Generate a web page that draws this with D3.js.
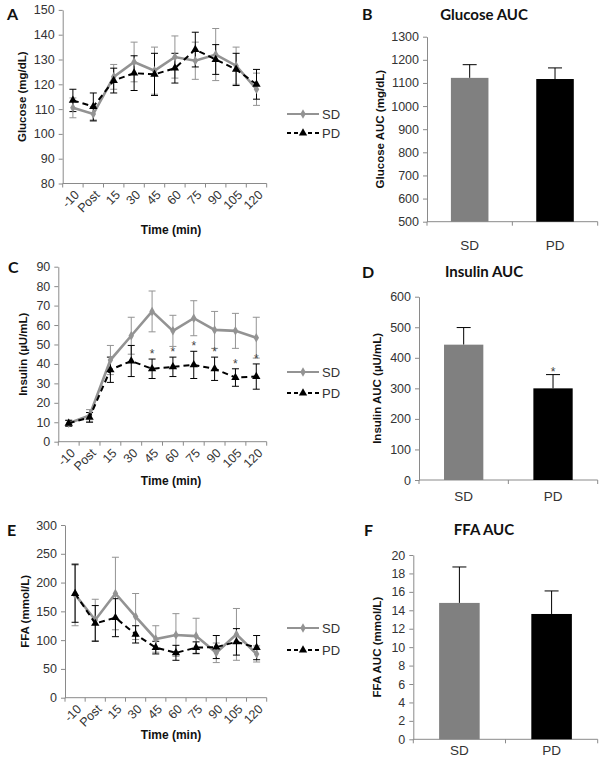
<!DOCTYPE html>
<html>
<head>
<meta charset="utf-8">
<script src="https://cdn.jsdelivr.net/npm/d3@7"></script>
<style>
  body { margin: 0; background: #fff; }
  text { font-family: "Liberation Sans", Arial, sans-serif; }
</style>
</head>
<body>
<script>
// time points
const times = ["-10", "Post", "15", "30", "45", "60", "75", "90", "105", "120"];
const groups = ["SD", "PD"];

// glucose (mg/dL)
const glucoseSD = [110.5, 108, 123, 129, 125.5, 131, 129.5, 132, 127.5, 118];
const glucoseSDErr = [4, 3, 5, 8, 9.5, 8.5, 7.5, 10.5, 7.5, 6.5];
const glucosePD = [113.5, 111, 121.5, 124.5, 124, 126.5, 134, 130, 126, 120];
const glucosePDErr = [4.5, 5.5, 5, 7, 8.5, 6, 7, 6, 6.5, 6];

// insulin (uU/mL)
const insulinSD = [9.5, 13.5, 42, 54.5, 67, 57, 63.5, 57.5, 57, 53.5];
const insulinSDErr = [1.5, 3, 7.5, 9.5, 10.5, 8, 9, 9.5, 9, 10.5];
const insulinPD = [9.5, 12.5, 37, 41.5, 37.5, 38.5, 39.5, 37.5, 33, 33.5];
const insulinPDErr = [1.5, 2.5, 6.5, 8, 5, 5, 7, 6, 4.5, 6.5];
const insulinStars = ["45", "60", "75", "90", "105", "120"];

// FFA (mmol/L)
const ffaSD = [179, 135, 181, 141, 102, 109, 107, 78, 110, 76];
const ffaSDErr = [54, 36, 63, 40, 23, 37, 31, 17, 45, 14];
const ffaPD = [181, 129, 139, 110, 87, 78, 87, 88, 97, 87];
const ffaPDErr = [50, 31, 33, 15, 11, 13, 10, 20, 23, 21];

// AUC bars [SD, PD]
const glucoseAUC = [1122, 1117];
const glucoseAUCErr = [57, 48];
const insulinAUC = [443, 300];
const insulinAUCErr = [56, 45];
const ffaAUC = [14.8, 13.6];
const ffaAUCErr = [3.9, 2.5];

const axisCol = "#8a8a8a";
const textCol = "#333";
const sdCol = "#939393";

const svg = d3.select("body").append("svg")
  .attr("width", 605).attr("height", 763);

function letter(s, x, y) {
  svg.append("text").attr("x", x).attr("y", y)
    .style("font-family", "Lato, 'Open Sans', sans-serif")
    .style("font-weight", "bold").style("font-size", "16px")
    .attr("fill", "#111").text(s);
}

function yAxis(y, x0, step, yTitle, tx, ty) {
  const ax = svg.append("g").attr("transform", `translate(${x0},0)`)
    .call(d3.axisLeft(y).tickValues(d3.range(y.domain()[0], y.domain()[1] + step / 2, step))
      .tickFormat(d3.format("d"))
      .tickSize(4).tickPadding(4).tickSizeOuter(0));
  ax.select(".domain").attr("stroke", axisCol);
  ax.selectAll(".tick line").attr("stroke", axisCol);
  ax.selectAll(".tick text").attr("fill", textCol).style("font-size", "12.5px")
    .style("font-family", "'Liberation Sans', Arial, sans-serif");
  svg.append("text").attr("transform", `translate(${tx},${ty}) rotate(-90)`)
    .attr("text-anchor", "middle").attr("dy", "0.35em")
    .style("font-weight", "bold").style("font-size", "11.5px").attr("fill", "#111")
    .text(yTitle);
}

function linePanel(o) {
  const x = d3.scaleBand().domain(times).range([o.x0, 266.7]);
  const y = d3.scaleLinear().domain(o.domain).range([o.yBot, o.yTop]);
  yAxis(y, o.x0, o.step, o.yTitle, o.ytx, (o.yTop + o.yBot) / 2);

  // x axis with ticks between categories
  const g = svg.append("g");
  g.append("line").attr("x1", o.x0).attr("x2", 266.7)
    .attr("y1", o.yBot).attr("y2", o.yBot).attr("stroke", axisCol);
  g.selectAll(".xt").data(d3.range(times.length + 1)).join("line")
    .attr("x1", i => o.x0 + i * x.step()).attr("x2", i => o.x0 + i * x.step())
    .attr("y1", o.yBot).attr("y2", o.yBot + 4).attr("stroke", axisCol);
  g.selectAll(".xl").data(times).join("text")
    .attr("transform", d => `translate(${x(d) + x.bandwidth() / 2 + 4},${o.yBot + 9}) rotate(-45)`)
    .attr("text-anchor", "end").attr("dy", "0.35em")
    .style("font-size", "12.5px").attr("fill", textCol).text(d => d);
  svg.append("text").attr("x", 171).attr("y", o.xty).attr("text-anchor", "middle")
    .attr("dy", "0.35em").style("font-weight", "bold").style("font-size", "12px")
    .attr("fill", "#111").text("Time (min)");

  const cx = d => x(d) + x.bandwidth() / 2;
  const series = [
    { vals: o.sd, err: o.sdErr, col: sdCol, dash: null, w: 2.6, mark: "diamond" },
    { vals: o.pd, err: o.pdErr, col: "#000", dash: "6,4", w: 2, mark: "triangle" }
  ];
  series.forEach(s => {
    const pts = times.map((t, i) => ({ t, v: s.vals[i], e: s.err[i] }));
    const eg = svg.append("g").attr("stroke", s.col).attr("stroke-width", 1);
    eg.selectAll(".ev").data(pts).join("line")
      .attr("x1", d => cx(d.t)).attr("x2", d => cx(d.t))
      .attr("y1", d => y(d.v - d.e)).attr("y2", d => y(d.v + d.e));
    eg.selectAll(".et").data(pts).join("line")
      .attr("x1", d => cx(d.t) - 3.5).attr("x2", d => cx(d.t) + 3.5)
      .attr("y1", d => y(d.v + d.e)).attr("y2", d => y(d.v + d.e));
    eg.selectAll(".eb").data(pts).join("line")
      .attr("x1", d => cx(d.t) - 3.5).attr("x2", d => cx(d.t) + 3.5)
      .attr("y1", d => y(d.v - d.e)).attr("y2", d => y(d.v - d.e));
  });
  series.forEach(s => {
    const pts = times.map((t, i) => ({ t, v: s.vals[i] }));
    svg.append("path").datum(pts)
      .attr("d", d3.line().x(d => cx(d.t)).y(d => y(d.v)))
      .attr("fill", "none").attr("stroke", s.col).attr("stroke-width", s.w)
      .attr("stroke-dasharray", s.dash);
    const sym = d3.symbol().type(s.mark === "diamond" ? d3.symbolDiamond : d3.symbolTriangle)
      .size(s.mark === "diamond" ? 26 : 30);
    svg.append("g").selectAll("path").data(pts).join("path")
      .attr("transform", d => `translate(${cx(d.t)},${y(d.v)})`)
      .attr("d", sym).attr("fill", s.col);
  });

  if (o.stars) {
    svg.append("g").selectAll("text").data(o.stars).join("text")
      .attr("x", d => cx(d))
      .attr("y", d => { const i = times.indexOf(d); return y(o.pd[i] + o.pdErr[i]) - 1; })
      .attr("text-anchor", "middle").style("font-size", "12px").attr("fill", "#444")
      .text("*");
  }

  // legend
  const lg = svg.append("g");
  [[sdCol, null, 2, d3.symbolDiamond, 26, "SD", o.legY[0]],
   ["#000", "4,3", 2, d3.symbolTriangle, 30, "PD", o.legY[1]]].forEach(r => {
    lg.append("line").attr("x1", 287).attr("x2", 319).attr("y1", r[6]).attr("y2", r[6])
      .attr("stroke", r[0]).attr("stroke-width", r[2]).attr("stroke-dasharray", r[1]);
    lg.append("path").attr("transform", `translate(303,${r[6]})`)
      .attr("d", d3.symbol().type(r[3]).size(r[4])).attr("fill", r[0]);
    lg.append("text").attr("x", 322).attr("y", r[6]).attr("dy", "0.35em")
      .style("font-size", "13px").attr("fill", textCol).text(r[5]);
  });
}

function barPanel(o) {
  const x = d3.scaleBand().domain(groups).range([o.x0, 597.7]).paddingInner(0.56).paddingOuter(0.28);
  const y = d3.scaleLinear().domain(o.domain).range([o.yBot, o.yTop]);
  yAxis(y, o.x0, o.step, o.yTitle, o.ytx, (o.yTop + o.yBot) / 2);

  const g = svg.append("g");
  g.append("line").attr("x1", o.x0).attr("x2", 597.7)
    .attr("y1", o.yBot).attr("y2", o.yBot).attr("stroke", axisCol);
  g.selectAll(".xt").data([0, 1, 2]).join("line")
    .attr("x1", i => o.x0 + i * (597.7 - o.x0) / 2).attr("x2", i => o.x0 + i * (597.7 - o.x0) / 2)
    .attr("y1", o.yBot).attr("y2", o.yBot + 4).attr("stroke", axisCol);
  g.selectAll(".xl").data(groups).join("text")
    .attr("x", d => o.x0 + (groups.indexOf(d) + 0.5) * (597.7 - o.x0) / 2)
    .attr("y", o.labY).attr("dy", "0.35em").attr("text-anchor", "middle")
    .style("font-size", "13.5px").attr("fill", textCol).text(d => d);

  const data = groups.map((k, i) => ({ k, v: o.vals[i], e: o.err[i] }));
  const cols = ["#808080", "#000"];
  const eg = svg.append("g").attr("stroke", "#000").attr("stroke-width", 1);
  eg.selectAll(".ev").data(data).join("line")
    .attr("x1", d => x(d.k) + x.bandwidth() / 2).attr("x2", d => x(d.k) + x.bandwidth() / 2)
    .attr("y1", d => y(d.v)).attr("y2", d => y(d.v + d.e));
  eg.selectAll(".ec").data(data).join("line")
    .attr("x1", d => x(d.k) + x.bandwidth() / 2 - 7).attr("x2", d => x(d.k) + x.bandwidth() / 2 + 7)
    .attr("y1", d => y(d.v + d.e)).attr("y2", d => y(d.v + d.e));
  svg.append("g").selectAll("rect").data(data).join("rect")
    .attr("x", d => x(d.k)).attr("width", x.bandwidth())
    .attr("y", d => y(d.v)).attr("height", d => o.yBot - y(d.v))
    .attr("fill", (d, i) => cols[i]);

  if (o.star) {
    const d = data[1];
    svg.append("text").attr("x", x(d.k) + x.bandwidth() / 2).attr("y", y(d.v + d.e) + 1)
      .attr("text-anchor", "middle").style("font-size", "12px").attr("fill", "#444").text("*");
  }

  svg.append("text").attr("x", 484).attr("y", o.titleY).attr("dy", "0.35em")
    .attr("text-anchor", "middle")
    .style("font-family", "Lato, 'Open Sans', sans-serif")
    .style("font-weight", "bold").style("font-size", "15px").attr("fill", "#111")
    .text(o.title);
}

linePanel({ x0: 62.7, yTop: 9.9, yBot: 183.5, domain: [80, 150], step: 10,
  yTitle: "Glucose (mg/dL)", ytx: 22, xty: 230,
  sd: glucoseSD, sdErr: glucoseSDErr, pd: glucosePD, pdErr: glucosePDErr, legY: [114, 133] });
linePanel({ x0: 58.3, yTop: 266.7, yBot: 441.7, domain: [0, 90], step: 10,
  yTitle: "Insulin (µU/mL)", ytx: 22.5, xty: 481,
  sd: insulinSD, sdErr: insulinSDErr, pd: insulinPD, pdErr: insulinPDErr,
  stars: insulinStars, legY: [372, 393] });
linePanel({ x0: 65, yTop: 525, yBot: 697.7, domain: [0, 300], step: 50,
  yTitle: "FFA (mmol/L)", ytx: 25, xty: 735,
  sd: ffaSD, sdErr: ffaSDErr, pd: ffaPD, pdErr: ffaPDErr, legY: [628, 650] });

barPanel({ x0: 427, yTop: 36.7, yBot: 221.7, domain: [500, 1300], step: 100,
  yTitle: "Glucose AUC (mg/dL)", ytx: 380, labY: 245, title: "Glucose AUC", titleY: 15,
  vals: glucoseAUC, err: glucoseAUCErr });
barPanel({ x0: 419, yTop: 296.7, yBot: 480, domain: [0, 600], step: 100,
  yTitle: "Insulin AUC (µU/mL)", ytx: 377, labY: 496, title: "Insulin AUC", titleY: 272,
  vals: insulinAUC, err: insulinAUCErr, star: true });
barPanel({ x0: 413.3, yTop: 555, yBot: 739.3, domain: [0, 20], step: 2,
  yTitle: "FFA AUC (mmol/L)", ytx: 377, labY: 750, title: "FFA AUC", titleY: 530,
  vals: ffaAUC, err: ffaAUCErr });

letter("A", 7, 20);
letter("B", 362, 20);
letter("C", 8, 273);
letter("D", 362, 278);
letter("E", 7, 536);
letter("F", 364, 536);
</script>
</body>
</html>
